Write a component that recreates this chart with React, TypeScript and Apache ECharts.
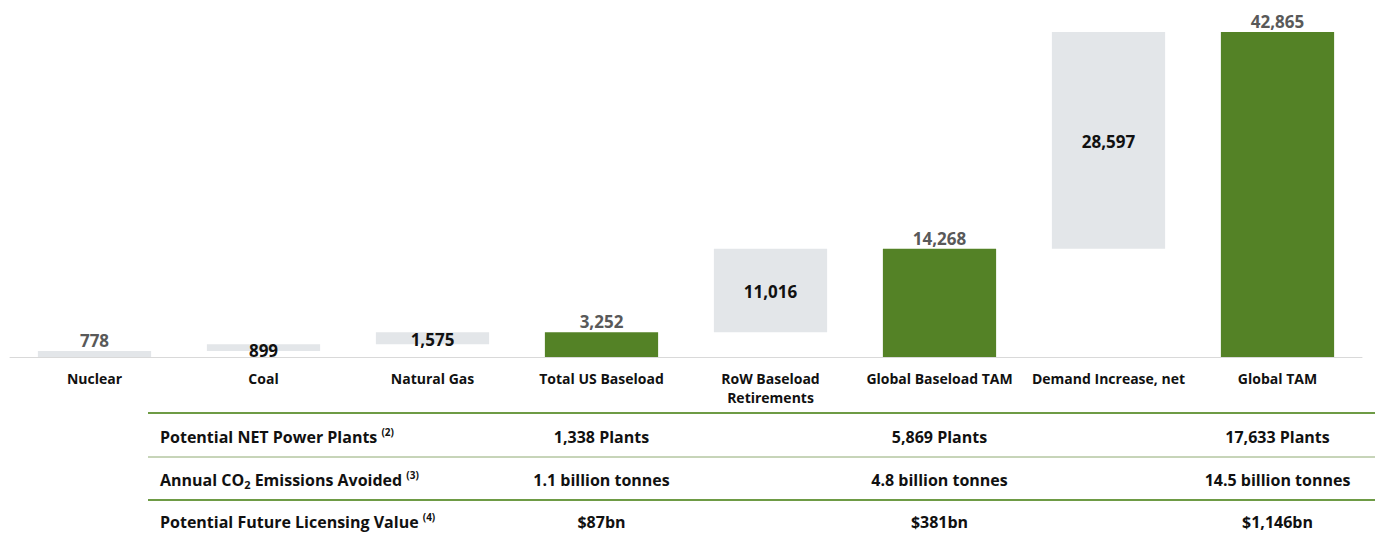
import React, { useEffect, useRef } from "react";
import * as echarts from "echarts";

const categories = [
  "Nuclear",
  "Coal",
  "Natural Gas",
  "Total US Baseload",
  "RoW Baseload\nRetirements",
  "Global Baseload TAM",
  "Demand Increase, net",
  "Global TAM",
];
const values = [778, 899, 1575, 3252, 11016, 14268, 28597, 42865];
const kinds = ["start", "step", "step", "total", "step", "total", "step", "total"];

const tableRowLabels = [
  "Potential NET Power Plants {sup|(2)}",
  "Annual CO{sub|2} Emissions Avoided {sup|(3)}",
  "Potential Future Licensing Value {sup|(4)}",
];
const tableColumns = ["Total US Baseload", "Global Baseload TAM", "Global TAM"];
const tableValues = [
  ["1,338 Plants", "5,869 Plants", "17,633 Plants"],
  ["1.1 billion tonnes", "4.8 billion tonnes", "14.5 billion tonnes"],
  ["$87bn", "$381bn", "$1,146bn"],
];

const FONT = "'Open Sans', 'Noto Sans', sans-serif";
const GREEN = "#548226";
const GRAY_BAR = "#e3e6e9";

function fmt(v: number) {
  return v.toLocaleString("en-US");
}

export default function App() {
  const ref = useRef<HTMLDivElement>(null);
  useEffect(() => {
    if (!ref.current) return;
    const chart = echarts.init(ref.current, undefined, { renderer: "svg" });

    // waterfall bases derived from values
    const bases: number[] = [];
    let running = 0;
    values.forEach((v, i) => {
      if (kinds[i] === "total") {
        bases.push(0);
        running = v;
      } else {
        bases.push(running);
        running += v;
      }
    });

    const valueData = values.map((v, i) => {
      const outside = kinds[i] !== "step";
      return {
        value: v,
        itemStyle: { color: kinds[i] === "total" ? GREEN : GRAY_BAR },
        label: {
          show: true,
          position: outside ? "top" : "inside",
          distance: outside ? 3 : 0,
          offset: kinds[i] === "step" && v < 1000 ? [0, 3] : [0, 1],
          color: outside ? "#595959" : "#111111",
          fontWeight: "bold",
          fontSize: 17,
          fontFamily: FONT,
          formatter: () => fmt(v),
        },
      };
    });

    chart.setOption({
      animation: false,
      grid: { left: 10, right: 18, top: 32, bottom: 181, containLabel: false },
      xAxis: {
        type: "category",
        data: categories,
        axisLine: { lineStyle: { color: "#d9d9d9", width: 1 } },
        axisTick: { show: false },
        axisLabel: {
          interval: 0,
          color: "#111111",
          fontWeight: "bold",
          fontSize: 14,
          fontFamily: FONT,
          margin: 12,
          lineHeight: 19,
        },
      },
      yAxis: { type: "value", min: 0, max: 42865, show: false, splitLine: { show: false } },
      series: [
        {
          type: "bar",
          stack: "w",
          data: bases,
          itemStyle: { color: "transparent" },
          barWidth: "67%",
          silent: true,
        },
        {
          type: "bar",
          stack: "w",
          data: valueData,
          barWidth: "67%",
        },
      ],
    });

    const colX = tableColumns.map((c) => chart.convertToPixel({ xAxisIndex: 0 }, c) as number);
    const lineYs = [413, 457, 500];
    const lineWidths = [2, 1, 2];
    const rowYs = [437, 480, 522];
    const graphics: any[] = [];
    lineYs.forEach((y, i) => {
      graphics.push({
        type: "line",
        shape: { x1: 148, y1: y, x2: 1375, y2: y },
        style: { stroke: i === 1 ? "#8faa72" : "#6e9b45", lineWidth: lineWidths[i] },
      });
    });
    tableRowLabels.forEach((lab, r) => {
      graphics.push({
        type: "text",
        x: 160,
        y: rowYs[r],
        style: {
          text: lab,
          fill: "#111111",
          fontFamily: FONT,
          fontWeight: "bold",
          fontSize: 16,
          verticalAlign: "middle",
          align: "left",
          rich: {
            sup: { fontSize: 10, fontWeight: "bold", fontFamily: FONT, verticalAlign: "top", lineHeight: 20, fill: "#111111" },
            sub: { fontSize: 11, fontWeight: "bold", fontFamily: FONT, verticalAlign: "bottom", lineHeight: 17, fill: "#111111" },
          },
        },
      });
      tableValues[r].forEach((txt, c) => {
        graphics.push({
          type: "text",
          x: colX[c],
          y: rowYs[r],
          style: {
            text: txt,
            fill: "#111111",
            fontFamily: FONT,
            fontWeight: "bold",
            fontSize: 16,
            align: "center",
            verticalAlign: "middle",
          },
        });
      });
    });
    chart.setOption({ graphic: graphics });

    return () => chart.dispose();
  }, []);
  return (
    <div
      ref={ref}
      style={{ position: "fixed", left: 0, top: 0, width: 1380, height: 538, background: "#ffffff" }}
    />
  );
}
